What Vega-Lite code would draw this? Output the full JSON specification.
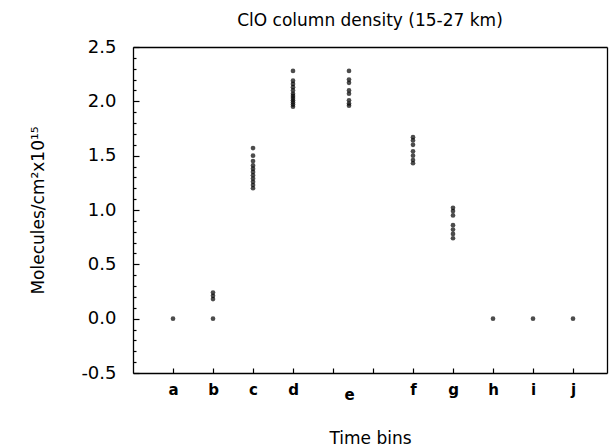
{
  "$schema": "https://vega.github.io/schema/vega-lite/v6.json",
  "autosize": "none",
  "width": 474,
  "height": 326,
  "padding": {"left": 133, "top": 47, "right": 4, "bottom": 71},
  "title": {"text": "ClO column density (15-27 km)", "font": "DejaVu Sans", "fontSize": 17, "fontWeight": "normal", "anchor": "middle", "offset": 8, "color": "black"},
  "config": {"axis": {"domainColor": "black", "domainWidth": 1.3, "tickColor": "black", "tickWidth": 1.2, "labelColor": "black", "titleColor": "black"}},
  "data": {"values": [
    {"label": "a", "t": 1, "v": 0.0},
    {"label": "b", "t": 2, "v": 0.0}, {"label": "b", "t": 2, "v": 0.18}, {"label": "b", "t": 2, "v": 0.21}, {"label": "b", "t": 2, "v": 0.24},
    {"label": "c", "t": 3, "v": 1.20}, {"label": "c", "t": 3, "v": 1.23}, {"label": "c", "t": 3, "v": 1.26}, {"label": "c", "t": 3, "v": 1.29}, {"label": "c", "t": 3, "v": 1.32}, {"label": "c", "t": 3, "v": 1.35}, {"label": "c", "t": 3, "v": 1.38}, {"label": "c", "t": 3, "v": 1.41}, {"label": "c", "t": 3, "v": 1.45}, {"label": "c", "t": 3, "v": 1.50}, {"label": "c", "t": 3, "v": 1.57},
    {"label": "d", "t": 4, "v": 1.95}, {"label": "d", "t": 4, "v": 1.97}, {"label": "d", "t": 4, "v": 1.99}, {"label": "d", "t": 4, "v": 2.01}, {"label": "d", "t": 4, "v": 2.03}, {"label": "d", "t": 4, "v": 2.05}, {"label": "d", "t": 4, "v": 2.07}, {"label": "d", "t": 4, "v": 2.10}, {"label": "d", "t": 4, "v": 2.13}, {"label": "d", "t": 4, "v": 2.16}, {"label": "d", "t": 4, "v": 2.19}, {"label": "d", "t": 4, "v": 2.28},
    {"label": "e", "t": 5.4, "v": 1.96}, {"label": "e", "t": 5.4, "v": 1.98}, {"label": "e", "t": 5.4, "v": 2.01}, {"label": "e", "t": 5.4, "v": 2.07}, {"label": "e", "t": 5.4, "v": 2.10}, {"label": "e", "t": 5.4, "v": 2.17}, {"label": "e", "t": 5.4, "v": 2.20}, {"label": "e", "t": 5.4, "v": 2.28},
    {"label": "f", "t": 7, "v": 1.43}, {"label": "f", "t": 7, "v": 1.46}, {"label": "f", "t": 7, "v": 1.50}, {"label": "f", "t": 7, "v": 1.54}, {"label": "f", "t": 7, "v": 1.60}, {"label": "f", "t": 7, "v": 1.64}, {"label": "f", "t": 7, "v": 1.67},
    {"label": "g", "t": 8, "v": 0.74}, {"label": "g", "t": 8, "v": 0.78}, {"label": "g", "t": 8, "v": 0.82}, {"label": "g", "t": 8, "v": 0.86}, {"label": "g", "t": 8, "v": 0.95}, {"label": "g", "t": 8, "v": 0.99}, {"label": "g", "t": 8, "v": 1.02},
    {"label": "h", "t": 9, "v": 0.0},
    {"label": "i", "t": 10, "v": 0.0},
    {"label": "j", "t": 11, "v": 0.0}
  ]},
  "mark": {"type": "point", "filled": true, "color": "black", "size": 22},
  "encoding": {
    "x": {"field": "t", "type": "quantitative", "scale": {"domain": [0, 11.85], "nice": false, "zero": false},
      "axis": {"orient": "bottom", "title": "Time bins", "titleFont": "DejaVu Sans", "titleFontSize": 17, "titleFontWeight": "normal", "titlePadding": 28,
        "values": [0, 1, 2, 3, 4, 5, 5.4, 6, 7, 8, 9, 10, 11, 11.85],
        "labelExpr": "datum.value == 1 ? 'a' : datum.value == 2 ? 'b' : datum.value == 3 ? 'c' : datum.value == 4 ? 'd' : datum.value == 5.4 ? 'e' : datum.value == 7 ? 'f' : datum.value == 8 ? 'g' : datum.value == 9 ? 'h' : datum.value == 10 ? 'i' : datum.value == 11 ? 'j' : ''",
        "labelOverlap": false, "labelFlush": false, "labelPadding": 14,
        "tickSize": {"condition": {"test": "datum.value == 0 || datum.value == 5.4 || datum.value > 11.5", "value": 0}, "value": -5},
        "grid": true, "gridColor": "black", "gridWidth": 1.3,
        "gridOpacity": {"condition": {"test": "datum.value > 11.5", "value": 1}, "value": 0},
        "labelFont": "DejaVu Sans", "labelFontSize": 15, "labelFontWeight": "bold"}},
    "y": {"field": "v", "type": "quantitative", "scale": {"domain": [-0.5, 2.5], "nice": false, "zero": false},
      "axis": {"orient": "left", "title": "Molecules/cm²x10¹⁵", "titleFont": "DejaVu Sans", "titleFontSize": 17, "titleFontWeight": "normal", "titlePadding": 33,
        "values": [-0.5, -0.4, -0.3, -0.2, -0.1, 0, 0.1, 0.2, 0.3, 0.4, 0.5, 0.6, 0.7, 0.8, 0.9, 1, 1.1, 1.2, 1.3, 1.4, 1.5, 1.6, 1.7, 1.8, 1.9, 2, 2.1, 2.2, 2.3, 2.4, 2.5],
        "labelExpr": "abs(datum.value*2 - round(datum.value*2)) < 0.01 ? replace(format(datum.value, '.1f'), '−', '-') : ''",
        "labelOverlap": false, "labelFlush": false,
        "tickSize": {"condition": {"test": "abs(datum.value*2 - round(datum.value*2)) < 0.01", "value": -6}, "value": -3},
        "grid": true, "gridColor": "black", "gridWidth": 1.3,
        "gridOpacity": {"condition": {"test": "datum.value > 2.45", "value": 1}, "value": 0},
        "labelPadding": 23, "labelFont": "DejaVu Sans", "labelFontSize": 18}}
  }
}
